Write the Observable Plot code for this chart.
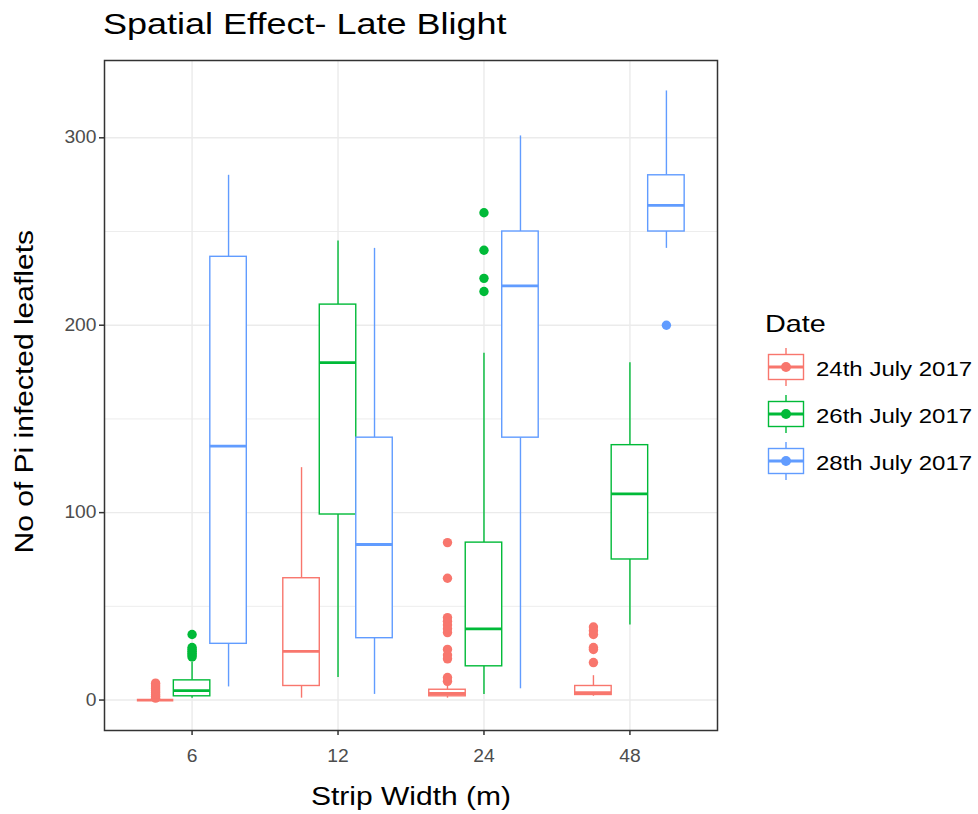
<!DOCTYPE html>
<html><head><meta charset="utf-8">
<script src="https://cdn.jsdelivr.net/npm/d3@7"></script>
<script src="https://cdn.jsdelivr.net/npm/@observablehq/plot@0.6"></script>
<style>
body{margin:0;background:#fff;font-family:"Liberation Sans",Arial,sans-serif;}
#wrap{position:relative;width:978px;height:814px;overflow:hidden;background:#fff;}
#title{height:50px;line-height:48px;padding-left:103px;font-size:30px;color:#000;white-space:nowrap;}
#title span{display:inline-block;transform:scaleX(1.2);transform-origin:left center;}
.leg{position:absolute;white-space:nowrap;color:#000;}
.leg span{display:inline-block;transform:scaleX(1.2);transform-origin:left center;}
.key{position:absolute;}
</style></head>
<body><div id="wrap"><div id="title"><span>Spatial Effect- Late Blight</span></div><div id="chart"></div><div id="legend"></div></div>
<script>
// ---- data ----
const widths = ["6", "12", "24", "48"];
const dates = ["24th July 2017", "26th July 2017", "28th July 2017"];
const colors = ["#F8766D", "#00BA38", "#619CFF"];
const yTicks = [0, 100, 200, 300];
const yMinor = [50, 150, 250];
// box statistics, ordered by strip width, then date
const lower  = [0, 1, 7,     1, 12, 3,    1, 3, 6,     2, 40, 241];
const q1     = [0, 2, 30,    7.5, 99, 33, 2, 18, 140,  2.7, 75, 250];
const median = [0, 5, 135.5, 26, 180, 83, 3.5, 38, 221, 4, 110, 264];
const q3     = [0, 10.5, 236.5, 65, 211, 140, 5.5, 84, 250, 7.5, 136, 280];
const upper  = [0, 20, 280,  124, 245, 241, 9, 185, 301, 13, 180, 325];
const outliers = [
  [1, 2, 3, 4, 5, 6, 7, 8, 9], [23, 24, 25, 26, 27, 28, 35], [],
  [], [], [],
  [10, 12, 22, 24, 27, 36, 38, 40, 42, 44, 65, 84], [218, 225, 240, 260], [],
  [20, 27, 28, 35, 37, 39], [], [200]
];

// ---- build tables ----
const dodge = 0.25, half = 0.125;
const boxes = [];
const points = [];
widths.forEach((w, wi) => dates.forEach((d, di) => {
  const k = wi * dates.length + di;
  const x = wi + 1 + (di - 1) * dodge;
  boxes.push({width: w, date: d, x, x1: x - half, x2: x + half,
    lower: lower[k], q1: q1[k], median: median[k], q3: q3[k], upper: upper[k]});
  outliers[k].forEach(v => points.push({width: w, date: d, x, value: v}));
}));

const chart = Plot.plot({
  width: 978, height: 764,
  marginLeft: 104, marginRight: 261, marginTop: 10, marginBottom: 84,
  style: {fontFamily: "Liberation Sans, Arial, sans-serif", fontSize: "17.5px", color: "#4D4D4D", background: "white"},
  x: {type: "linear", domain: [0.4, 4.6], ticks: [1, 2, 3, 4], tickFormat: i => widths[i - 1], tickSize: 5, tickPadding: 14, label: null},
  y: {domain: [-16.25, 341.25], ticks: yTicks, tickSize: 5, tickPadding: 3, label: null},
  color: {domain: dates, range: colors},
  marks: [
    Plot.ruleY(yMinor, {stroke: "#EBEBEB", strokeWidth: 0.9}),
    Plot.ruleY(yTicks, {stroke: "#EBEBEB", strokeWidth: 1.4}),
    Plot.ruleX([1, 2, 3, 4], {stroke: "#EBEBEB", strokeWidth: 1.4}),
    Plot.dot(points, {x: "x", y: "value", fill: "date", r: 4.7}),
    Plot.ruleX(boxes, {x: "x", y1: "q3", y2: "upper", stroke: "date", strokeWidth: 1.4}),
    Plot.ruleX(boxes, {x: "x", y1: "lower", y2: "q1", stroke: "date", strokeWidth: 1.4}),
    Plot.rect(boxes, {x1: "x1", x2: "x2", y1: "q1", y2: "q3", fill: "white", stroke: "date", strokeWidth: 1.4}),
    Plot.ruleY(boxes, {y: "median", x1: "x1", x2: "x2", stroke: "date", strokeWidth: 2.8}),
    Plot.frame({stroke: "#333333", strokeWidth: 1.5}),
    Plot.text(["Strip Width (m)"], {text: d => d, frameAnchor: "bottom", dy: 74, fontSize: 25, fill: "black"}),
    Plot.text(["No of Pi infected leaflets"], {text: d => d, frameAnchor: "left", rotate: -90, textAnchor: "start", dx: -80, dy: 158, fontSize: 25, fill: "black"})
  ]
});
document.getElementById("chart").appendChild(chart);
chart.querySelectorAll("text").forEach(t => {
  const len = t.getComputedTextLength();
  const isTick = !!t.closest('g[aria-label*="axis"]');
  if (len > 0) {
    t.setAttribute("textLength", (len * (isTick ? 1.1 : 1.2)).toFixed(2));
    t.setAttribute("lengthAdjust", "spacingAndGlyphs");
  }
});
chart.querySelectorAll('[aria-label$="axis tick"]').forEach(g => {
  g.setAttribute("stroke", "#333333");
  g.setAttribute("stroke-width", "1.5");
});

// ---- legend ----
const leg = document.getElementById("legend");
const ttl = document.createElement("div");
ttl.className = "leg";
ttl.style.cssText = "left:765px;top:312px;font-size:24px;line-height:24px;";
ttl.innerHTML = "<span>Date</span>";
leg.appendChild(ttl);
const ns = "http://www.w3.org/2000/svg";
dates.forEach((d, i) => {
  const cy = 367 + i * 47;
  const svg = document.createElementNS(ns, "svg");
  svg.setAttribute("width", 46); svg.setAttribute("height", 46);
  svg.setAttribute("class", "key");
  svg.style.left = "763px"; svg.style.top = (cy - 23) + "px";
  const c = colors[i];
  svg.innerHTML =
    `<line x1="23" x2="23" y1="4" y2="11" stroke="${c}" stroke-width="1.4"/>` +
    `<line x1="23" x2="23" y1="35" y2="42" stroke="${c}" stroke-width="1.4"/>` +
    `<rect x="5.5" y="10.5" width="35" height="25" fill="white" stroke="${c}" stroke-width="1.4"/>` +
    `<line x1="5.5" x2="40.5" y1="23" y2="23" stroke="${c}" stroke-width="2.8"/>` +
    `<circle cx="23" cy="23" r="5" fill="${c}"/>`;
  leg.appendChild(svg);
  const lab = document.createElement("div");
  lab.className = "leg";
  lab.style.cssText = `left:816px;top:${cy - 8}px;font-size:20px;line-height:20px;`;
  lab.innerHTML = `<span>${d}</span>`;
  leg.appendChild(lab);
});
</script>
</body></html>
